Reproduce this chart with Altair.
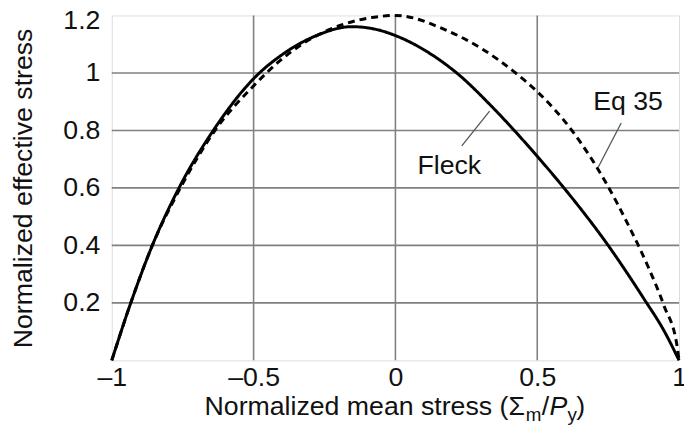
import altair as alt
import pandas as pd

# ---- data ----
fleck_x = [-1.0, -0.933, -0.857, -0.763, -0.642, -0.5, -0.387, -0.271, -0.155,
           -0.062, 0.0, 0.118, 0.222, 0.338, 0.419, 0.5, 0.59, 0.75, 0.877, 0.947, 1.0]
fleck_y = [0.0, 0.20, 0.40, 0.60, 0.80, 0.98, 1.072, 1.133, 1.161,
           1.15, 1.13, 1.07, 0.995, 0.885, 0.80, 0.71, 0.605, 0.40, 0.213, 0.103, 0.0]

eq35_x = [-1.0, -0.933, -0.857, -0.758, -0.636, -0.5, -0.41, -0.329, -0.19,
          -0.075, 0.0, 0.176, 0.303, 0.43, 0.5, 0.622, 0.744, 0.819, 0.889, 0.947, 0.993, 1.0]
eq35_y = [0.0, 0.20, 0.40, 0.60, 0.80, 0.955, 1.04, 1.10, 1.167,
          1.194, 1.20, 1.15, 1.085, 0.995, 0.935, 0.80, 0.615, 0.475, 0.33, 0.19, 0.05, 0.0]

x_ticks = [-1, -0.5, 0, 0.5, 1]
y_ticks = [0.2, 0.4, 0.6, 0.8, 1.0, 1.2]
x_grid = [-0.5, 0, 0.5]
y_grid = [0.2, 0.4, 0.6, 0.8, 1.0]

fleck_leader_x = [0.234, 0.332]
fleck_leader_y = [0.746, 0.867]
eq_leader_x = [0.715, 0.796]
eq_leader_y = [0.672, 0.826]

labels_text = ["Fleck", "Eq 35"]
labels_x = [0.19, 0.82]
labels_y = [0.675, 0.90]

# ---- layout ----
W, H = 574, 349
FONT = "Liberation Sans"
FS = 27
INK = "#111111"

xs = alt.Scale(domain=[-1, 1], nice=False, zero=False)
ys = alt.Scale(domain=[0, 1.2], nice=False, zero=False)

curves = pd.concat([
    pd.DataFrame({"x": fleck_x, "y": fleck_y, "s": "Fleck"}),
    pd.DataFrame({"x": eq35_x, "y": eq35_y, "s": "Eq 35"}),
])

xaxis = alt.Axis(values=x_ticks, grid=False, ticks=False, tickSize=0, domain=False,
                 labelFlush=False, labelOverlap=False, labelPadding=4,
                 labelFont=FONT, labelFontSize=FS, labelColor=INK,
                 labelExpr="datum.value < 0 ? '\u2013' + format(-datum.value, '~g') : format(datum.value, '~g')",
                 title=None)
yaxis = alt.Axis(values=y_ticks, grid=False, ticks=False, tickSize=0, domain=False,
                 labelFlush=False, labelOverlap=False, labelPadding=12,
                 labelOffset={"condition": {"test": "datum.value > 1.1", "value": 5}, "value": 0},
                 labelFont=FONT, labelFontSize=FS, labelColor=INK,
                 labelExpr="format(datum.value, '~g')",
                 title="Normalized effective stress", titleFont=FONT, titleFontSize=FS,
                 titleFontWeight="normal", titleColor=INK, titleX=-89, titleY=H / 2,
                 titleAngle=-90, titleAlign="center", titleBaseline="middle")

vgrid = alt.Chart(pd.DataFrame({"x": x_grid})).mark_rule(color="#808080", strokeWidth=1.6).encode(
    x=alt.X("x:Q", scale=xs, axis=xaxis))
hgrid = alt.Chart(pd.DataFrame({"y": y_grid})).mark_rule(color="#808080", strokeWidth=1.6).encode(
    y=alt.Y("y:Q", scale=ys, axis=yaxis))

lines = alt.Chart(curves).mark_line(color="black", strokeWidth=3, interpolate="monotone").encode(
    x=alt.X("x:Q", scale=xs),
    y=alt.Y("y:Q", scale=ys),
    detail="s:N",
    strokeDash=alt.StrokeDash("s:N", scale=alt.Scale(domain=["Fleck", "Eq 35"],
                                                     range=[[1, 0], [7, 5]]), legend=None),
)

leaders = pd.DataFrame({
    "x": [fleck_leader_x[0], eq_leader_x[0]], "x2": [fleck_leader_x[1], eq_leader_x[1]],
    "y": [fleck_leader_y[0], eq_leader_y[0]], "y2": [fleck_leader_y[1], eq_leader_y[1]],
})
leader = alt.Chart(leaders).mark_rule(color="#555555", strokeWidth=1.3).encode(
    x=alt.X("x:Q", scale=xs), x2="x2:Q", y=alt.Y("y:Q", scale=ys), y2="y2:Q")

ann = alt.Chart(pd.DataFrame({"t": labels_text, "x": labels_x, "y": labels_y})).mark_text(
    font=FONT, fontSize=FS, color=INK, align="center", baseline="middle").encode(
    x=alt.X("x:Q", scale=xs), y=alt.Y("y:Q", scale=ys), text="t:N")

# x-axis title composed with subscripts and italic P
X0 = 418
TY = H + 55
tpieces = [
    ("Normalized mean stress (\u03a3", X0, TY, FS, "normal", "right"),
    ("m", X0 + 1, TY + 6, 19, "normal", "left"),
    ("/", X0 + 17, TY, FS, "normal", "left"),
    ("P", X0 + 25, TY, FS, "italic", "left"),
    ("y", X0 + 43, TY + 6, 19, "normal", "left"),
    (")", X0 + 52, TY, FS, "normal", "left"),
]
title_layers = []
for txt, px, py, fs, style, al in tpieces:
    title_layers.append(
        alt.Chart(pd.DataFrame({"t": [txt]})).mark_text(
            font=FONT, fontSize=fs, fontStyle=style, color=INK, align=al,
            baseline="alphabetic").encode(x=alt.value(px), y=alt.value(py), text="t:N"))

chart = alt.layer(vgrid, hgrid, lines, leader, ann, *title_layers).properties(
    width=W, height=H,
    autosize=alt.AutoSizeParams(type="none"),
    padding={"left": 105, "top": 5, "right": 5, "bottom": 75},
).configure_view(stroke="black", strokeWidth=2).configure(background="white")

chart.save("out.html", embed_options={"renderer": "svg", "actions": False})
